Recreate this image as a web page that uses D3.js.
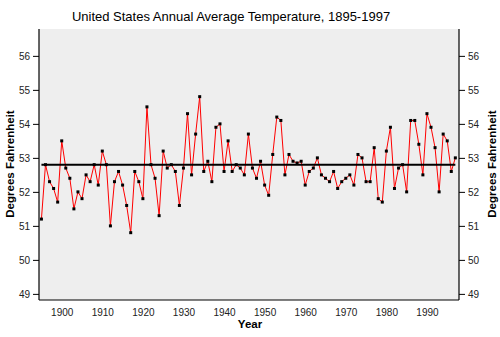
<!DOCTYPE html>
<html>
<head>
<meta charset="utf-8">
<script src="https://cdn.jsdelivr.net/npm/d3@7"></script>
<style>
  html, body { margin: 0; padding: 0; background: #ffffff; }
  svg { display: block; }
  text { font-family: Arial, "Liberation Sans", Helvetica, sans-serif; }
</style>
</head>
<body>
<svg id="chart" width="500" height="337"></svg>
<script>
// ---- data ----
const startYear = 1895;
const temps = [
  51.2, 52.8, 52.3, 52.1, 51.7, 53.5, 52.7, 52.4, 51.5, 52.0, // 1895-1904
  51.8, 52.5, 52.3, 52.8, 52.2, 53.2, 52.8, 51.0, 52.3, 52.6, // 1905-1914
  52.2, 51.6, 50.8, 52.6, 52.3, 51.8, 54.5, 52.8, 52.4, 51.3, // 1915-1924
  53.2, 52.7, 52.8, 52.6, 51.6, 52.7, 54.3, 52.5, 53.7, 54.8, // 1925-1934
  52.6, 52.9, 52.3, 53.9, 54.0, 52.6, 53.5, 52.6, 52.8, 52.7, // 1935-1944
  52.5, 53.7, 52.7, 52.4, 52.9, 52.2, 51.9, 53.1, 54.2, 54.1, // 1945-1954
  52.5, 53.1, 52.9, 52.85, 52.9, 52.2, 52.6, 52.7, 53.0, 52.5, // 1955-1964
  52.4, 52.3, 52.6, 52.1, 52.3, 52.4, 52.5, 52.2, 53.1, 53.0, // 1965-1974
  52.3, 52.3, 53.3, 51.8, 51.7, 53.2, 53.9, 52.1, 52.7, 52.8, // 1975-1984
  52.0, 54.1, 54.1, 53.4, 52.5, 54.3, 53.9, 53.3, 52.0, 53.7, // 1985-1994
  53.5, 52.6, 53.0                                            // 1995-1997
];
const years = temps.map((t, i) => startYear + i);
const meanTemp = 52.8;
const yTicks = [49, 50, 51, 52, 53, 54, 55, 56];
const xTicks = [1900, 1910, 1920, 1930, 1940, 1950, 1960, 1970, 1980, 1990];
const titleText = "United States Annual Average Temperature, 1895-1997";
const xLabel = "Year";
const yLabel = "Degrees Fahrenheit";

// ---- layout ----
const L = 39, R = 459, T = 29, B = 300;
const svg = d3.select("#chart");

const x = d3.scaleLinear().domain([1894.4, 1997.9]).range([L, R]);
const y = d3.scaleLinear().domain([48.82, 56.79]).range([B, T]);

// background
svg.append("rect").attr("x", L).attr("y", T).attr("width", R - L).attr("height", B - T)
  .attr("fill", "#eeeeee");

// title
svg.append("text").attr("x", 231).attr("y", 21).attr("text-anchor", "middle")
  .attr("font-size", 13).attr("fill", "#000").text(titleText);

// left axis
const axL = d3.axisLeft(y).tickValues(yTicks).tickSize(6).tickPadding(3).tickFormat(d3.format("d"));
const gL = svg.append("g").attr("transform", `translate(${L},0)`).call(axL);
// right axis
const axR = d3.axisRight(y).tickValues(yTicks).tickSize(6).tickPadding(3).tickFormat(d3.format("d"));
const gR = svg.append("g").attr("transform", `translate(${R},0)`).call(axR);
// bottom axis
const axB = d3.axisBottom(x).tickValues(xTicks).tickSize(0).tickPadding(9).tickFormat(d3.format("d"));
const gB = svg.append("g").attr("transform", `translate(0,${B})`).call(axB);

[gL, gR, gB].forEach(g => {
  g.select(".domain").attr("stroke", "#000").attr("stroke-width", 1.2);
  g.selectAll(".tick line").attr("stroke", "#000");
  g.selectAll(".tick text").attr("font-size", 10).attr("fill", "#222")
    .attr("font-family", "Arial, 'Liberation Sans', sans-serif");
});
gL.select(".domain").attr("d", `M0,${T}V${B}`);
gR.select(".domain").attr("d", `M0,${T}V${B}`);
gB.select(".domain").attr("d", `M${L},0H${R}`);

// axis labels
svg.append("text").attr("x", 250).attr("y", 328).attr("text-anchor", "middle")
  .attr("font-size", 11.5).attr("font-weight", "bold").text(xLabel);
svg.append("text").attr("transform", "translate(14,164) rotate(-90)")
  .attr("text-anchor", "middle").attr("font-size", 11.5).attr("font-weight", "bold").text(yLabel);
svg.append("text").attr("transform", "translate(496,164) rotate(-90)")
  .attr("text-anchor", "middle").attr("font-size", 11.5).attr("font-weight", "bold").text(yLabel);

// data line
const data = years.map((yr, i) => ({ year: yr, temp: temps[i] }));
const line = d3.line().x(d => x(d.year)).y(d => y(d.temp));
svg.append("path").datum(data).attr("d", line)
  .attr("fill", "none").attr("stroke", "#ff0000").attr("stroke-width", 1);

// mean line
svg.append("line")
  .attr("x1", x(years[0])).attr("x2", x(years[years.length - 1]))
  .attr("y1", y(meanTemp)).attr("y2", y(meanTemp))
  .attr("stroke", "#000").attr("stroke-width", 2);

// markers
svg.append("g").selectAll("rect").data(data).join("rect")
  .attr("x", d => x(d.year) - 1.5).attr("y", d => y(d.temp) - 1.5)
  .attr("width", 3).attr("height", 3).attr("fill", "#000");
</script>
</body>
</html>
